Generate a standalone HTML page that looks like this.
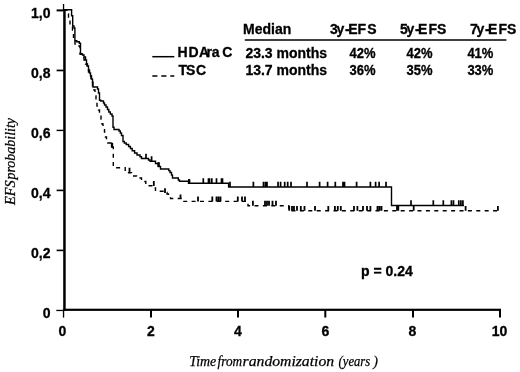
<!DOCTYPE html>
<html><head><meta charset="utf-8">
<style>
html,body{margin:0;padding:0;background:#fff;width:520px;height:372px;overflow:hidden}
svg{display:block;will-change:transform}
.b{font-family:"Liberation Sans",sans-serif;font-weight:bold;font-size:14px;fill:#000;stroke:#000;stroke-width:0.3px}
.it{font-family:"Liberation Serif",serif;font-style:italic;font-size:14px;fill:#000;stroke:#000;stroke-width:0.25px}
</style></head><body>
<svg width="520" height="372" viewBox="0 0 520 372">
<!-- axes -->
<g fill="#000">
<rect x="62.9" y="4" width="1.3" height="7"/>
<rect x="63.2" y="9.5" width="2.5" height="301.5"/>
<rect x="63.2" y="308.7" width="437.8" height="2.2"/>
<rect x="56.6" y="9.4" width="7" height="2"/>
<rect x="56.6" y="69.6" width="7" height="1.7"/>
<rect x="56.6" y="129.7" width="7" height="1.4"/>
<rect x="56.6" y="189.6" width="7" height="1.6"/>
<rect x="56.6" y="249.6" width="7" height="1.6"/>
<rect x="56.3" y="309.8" width="7" height="1.3"/>
<rect x="62.9" y="310" width="1.3" height="7.6"/>
<rect x="150" y="310" width="2" height="7.5"/>
<rect x="237" y="310" width="2" height="7.5"/>
<rect x="324.3" y="310" width="2" height="7.5"/>
<rect x="412" y="310" width="2" height="7.5"/>
<rect x="499" y="310" width="2" height="7.5"/>
</g>
<!-- y labels -->
<g class="b" text-anchor="end">
<text x="50.5" y="17.5">1,0</text>
<text x="50.5" y="77.5">0,8</text>
<text x="50.5" y="137.5">0,6</text>
<text x="50.5" y="197.5">0,4</text>
<text x="50.5" y="257.5">0,2</text>
<text x="50.5" y="317.5">0</text>
</g>
<!-- x labels -->
<g class="b" text-anchor="middle">
<text x="62.5" y="336">0</text>
<text x="150.8" y="336">2</text>
<text x="238" y="336">4</text>
<text x="325.3" y="336">6</text>
<text x="412.5" y="336">8</text>
<text x="499.5" y="336">10</text>
</g>
<!-- axis titles -->
<g class="it">
<text x="189.2" y="365.5" textLength="27" lengthAdjust="spacingAndGlyphs">Time</text>
<text x="217.6" y="365.5" textLength="24.6" lengthAdjust="spacingAndGlyphs">from</text>
<text x="242.6" y="365.5" textLength="91.5" lengthAdjust="spacingAndGlyphs">randomization</text>
<text x="338.6" y="365.5" textLength="31.5" lengthAdjust="spacingAndGlyphs">(years</text>
<text x="373.2" y="365.5">)</text>
</g>
<g class="it" transform="translate(15.1,0) rotate(-90)">
<text x="-205" y="0" textLength="24.6" lengthAdjust="spacingAndGlyphs">EFS</text>
<text x="-179.6" y="0" textLength="61.6" lengthAdjust="spacingAndGlyphs">probability</text>
</g>
<!-- legend -->
<line x1="152.3" y1="56.7" x2="174.3" y2="56.7" stroke="#000" stroke-width="1.5"/>
<line x1="152.3" y1="76.1" x2="174.3" y2="76.1" stroke="#000" stroke-width="1.5" stroke-dasharray="5.1 3.9"/>
<g class="b">
<text x="177.4 188.6 198.9 206.6 211.8 222.3" y="56.9">HDAraC</text>
<text x="178.6 186 195.9" y="74.6">TSC</text>
<text x="243.1" y="33.8">Median</text>
<text x="245.4" y="57.7">23.3 months</text>
<text x="245.4" y="75.3">13.7 months</text>
<text x="330 336.6 345 348.2 357.5 367.15" y="34">3y-EFS</text>
<text x="399.9 406.6 415 418.1 428.4 437.05" y="34">5y-EFS</text>
<text x="470 476.6 485 488.1 498.4 507.05" y="34">7y-EFS</text>
<text x="375.6" y="57.6" text-anchor="end" textLength="26" lengthAdjust="spacingAndGlyphs">42%</text>
<text x="375.6" y="75.2" text-anchor="end" textLength="26" lengthAdjust="spacingAndGlyphs">36%</text>
<text x="432.5" y="57.6" text-anchor="end" textLength="26" lengthAdjust="spacingAndGlyphs">42%</text>
<text x="432.5" y="75.2" text-anchor="end" textLength="26" lengthAdjust="spacingAndGlyphs">35%</text>
<text x="493.4" y="57.6" text-anchor="end" textLength="26" lengthAdjust="spacingAndGlyphs">41%</text>
<text x="493.4" y="75.2" text-anchor="end" textLength="26" lengthAdjust="spacingAndGlyphs">33%</text>
<text x="361" y="275.5">p = 0.24</text>
</g>
<line x1="244.8" y1="40" x2="506.4" y2="40" stroke="#000" stroke-width="1.6"/>

<!-- solid curve HDAraC -->
<path fill="none" stroke="#000" stroke-width="1.4" d="M64 9.8 H71.6 V15.8 H72.7 V26 H74 V28 H74.9 V40.8 H76.8 V41.8 H79.3 V43.2 H80.5 V54 H82.5 V55 H84 V57 H85.5 V60 H86.5 V64 H87.5 V66 H88.5 V70 H89.5 V73 H90.5 V76 H91.5 V79 H92.5 V82 H93 V87 H97.5 V89 H98.5 V93 H99.5 V100.3 H100.8 V101 H103.5 V103 H104.5 V105 H106 V107 H107.5 V109.5 H108.8 V112 H110.3 V114 H112 V116 H113 V127.3 H114 V129.5 H119 V131 H120.3 V133 H121.5 V135.5 H123 V141.5 H124.3 V143 H126.2 V144.5 H128.6 V146.5 H130.4 V148.5 H132.2 V150.7 H134.6 V153 H137 V155 H140 V156.8 H141.5 V158.5 H148.5 V160 H150 V161.2 H155.5 V163.5 H158.5 V166.5 H160.5 V169 H168.8 V170.6 H170 V172.5 H171.5 V175 H172.5 V178 H178.3 V180 H179.5 V181.2 H188.5 V183.2 H228.6 V187 H391.5 V205.5 H464"/>
<!-- dashed curve TSC -->
<path fill="none" stroke="#000" stroke-width="1.4" stroke-dasharray="4 4.4" d="M64 9.8 H66.8 V14 H68.5 V20 H70 V25 H72.5 V30 H73.5 V38 H75 V44 H79 V46 H80 V54 H82 V56 H84 V60 H85.5 V64 H87 V68 H88.5 V72 H89.5 V76 H91 V80 H92.5 V86 H94 V90 H95 V96 H96 V101 H97 V106 H98.5 V110 H99.5 V115 H101 V119 H102 V124 H103 V128 H104.5 V132 H105.5 V137 H106.5 V143 H111 V147 H113.3 V167.7 H125.2 V172.7 H131.5 V174.5 H133 V176 H136.5 V178 H141.5 V180 H142.5 V181.5 H145.8 V185.7 H153 V188 H155.5 V191.3 H164.5 V192.5 H167 V194 H168.5 V196 H170.5 V198.5 H182 V201.4 H248 V205.7 H288.8 V210.7 H498.5"/>
<!-- censor ticks -->
<path fill="none" stroke="#000" stroke-width="2.3" d="M158.6 162.3 V166.9 M189.2 179.6 V183.3 M112 143 V147.6"/>
<path fill="none" stroke="#000" stroke-width="1.7" d="M146 153.7 V158.5 M151.6 156.3 V161.1 M158.5 162.5 V166.5 M189 179 V183.2 M203.3 178.2 V183.2 M208.5 178.2 V183.2 M209.5 178.2 V183.2 M211.8 178.2 V183.2 M216.5 178.2 V183.2 M221.5 178.2 V183.2 M222.5 178.2 V183.2 M230 181.8 V187 M253.4 181.8 V187 M263.5 181.8 V187 M265.5 181.8 V187 M267 181.8 V187 M278 181.8 V187 M280.6 181.8 V187 M284.7 181.8 V187 M287.7 181.8 V187 M291 181.8 V187 M307 181.8 V187 M319.6 181.8 V187 M327.6 181.8 V187 M335.3 181.8 V187 M343 181.8 V187 M344.5 181.8 V187 M356.6 181.8 V187 M370.4 181.8 V187 M375.6 181.8 V187 M379.1 181.8 V187 M386 181.8 V187 M411 200.2 V205.5 M433.3 200.2 V205.5 M443.3 200.2 V205.5 M451.4 200.2 V205.5 M453.5 200.2 V205.5 M458.8 200.2 V205.5 M460.9 200.2 V205.5 M462.9 200.2 V205.5"/>
<path fill="none" stroke="#000" stroke-width="1.8" d="M112 142.8 V147.6 M129.5 167.7 V172.7 M153.8 181 V186 M165 188.2 V193 M180.5 194.5 V198.5 M198 196.6 V201.4 M212.3 196.6 V201.4 M216.5 196.6 V201.4 M218.5 196.6 V201.4 M220.5 196.6 V201.4 M237.8 196.6 V201.4 M242 196.6 V201.4 M245 196.6 V201.4 M252.9 200.7 V205.7 M265 200.7 V205.7 M267 200.7 V205.7 M269 200.7 V205.7 M272.5 200.7 V205.7 M276 200.7 V205.7 M289.2 205.9 V210.7 M292 205.9 V210.7 M294 205.9 V210.7 M297 205.9 V210.7 M300.8 205.9 V210.7 M304.5 205.9 V210.7 M315 205.9 V210.7 M328.3 205.9 V210.7 M334.9 205.9 V210.7 M337.8 205.9 V210.7 M340.8 205.9 V210.7 M354 205.9 V210.7 M357.4 205.9 V210.7 M363 205.9 V210.7 M367 205.9 V210.7 M370.4 205.9 V210.7 M377.5 205.9 V210.7 M379.5 205.9 V210.7 M381.5 205.9 V210.7 M397 205.9 V210.7 M398.3 205.9 V210.7 M413.7 205.9 V210.7 M465.6 205.9 V210.7 M497.9 205.9 V210.7"/>
</svg>
</body></html>
